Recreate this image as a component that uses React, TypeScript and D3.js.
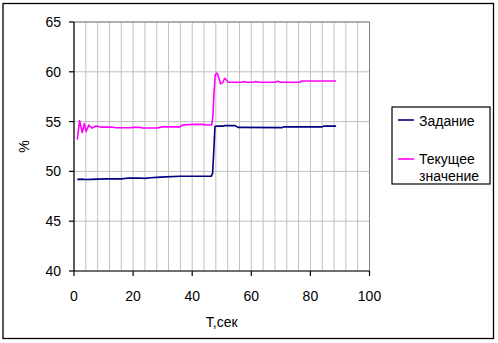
import React from "react";
import * as d3 from "d3";

const W = 498;
const H = 343;

const setpointT = [1.1, 3, 4, 6, 8, 11, 16, 18, 22, 24, 26, 28, 31, 36, 46.5, 46.9, 47.3, 47.7, 48.5, 50.5, 51, 54.5, 55.5, 70.5, 71, 84, 84.5, 88.7];
const setpointV = [49.2, 49.22, 49.18, 49.2, 49.22, 49.25, 49.25, 49.32, 49.33, 49.3, 49.36, 49.4, 49.45, 49.52, 49.52, 49.8, 52.0, 54.5, 54.55, 54.55, 54.6, 54.6, 54.42, 54.4, 54.47, 54.47, 54.55, 54.55];

const currentT = [1.1, 1.9, 2.8, 3.5, 4.1, 5.0, 6.1, 7.5, 9, 13, 14, 19, 20, 22.5, 23, 28, 30, 35.9, 36.5, 37.9, 40.4, 43.8, 44.5, 46.6, 47.0, 47.4, 47.8, 48.4, 49.0, 49.6, 50.3, 51.0, 51.5, 52.2, 57, 57.5, 58.5, 61, 61.5, 62.5, 68, 69, 70, 76.5, 77, 88.7];
const currentV = [53.2, 55.1, 53.9, 54.8, 54.0, 54.65, 54.35, 54.55, 54.45, 54.45, 54.38, 54.38, 54.42, 54.42, 54.36, 54.36, 54.47, 54.47, 54.62, 54.69, 54.72, 54.72, 54.66, 54.66, 55.5, 58.0, 59.7, 59.88, 59.4, 58.8, 58.9, 59.35, 59.2, 58.95, 58.95, 59.03, 58.95, 58.95, 59.03, 58.95, 58.95, 59.05, 58.95, 58.95, 59.08, 59.08];

const xTicks = [0, 20, 40, 60, 80, 100];
const yTicks = [40, 45, 50, 55, 60, 65];
const xGrid = d3.range(0, 101, 4);
const legendLabels = ["Задание", "Текущее", "значение"];

const FONT = "'Liberation Sans', Arial, sans-serif";

export default function App() {
  const x = d3.scaleLinear().domain([0, 100]).range([74, 369.5]);
  const y = d3.scaleLinear().domain([40, 65]).range([271, 22]);

  const line = d3
    .line<[number, number]>()
    .x((d) => x(d[0]))
    .y((d) => y(d[1]));

  const sp = setpointT.map((t, i) => [t, setpointV[i]] as [number, number]);
  const cur = currentT.map((t, i) => [t, currentV[i]] as [number, number]);

  return (
    <svg
      width={W}
      height={H}
      style={{ position: "absolute", left: 0, top: 0, background: "#fff" }}
      fontFamily={FONT}
    >
      <rect x={0} y={0} width={W} height={H} fill="#fff" />
      <rect x={3} y={3.5} width={490.5} height={335} fill="none" stroke="#000" strokeWidth={1.3} />

      {/* grid */}
      {xGrid.map((v) => (
        <line key={"gx" + v} x1={x(v)} x2={x(v)} y1={y(40)} y2={y(65)} stroke="#c0c0c0" strokeWidth={1} />
      ))}
      {yTicks.map((v) => (
        <line key={"gy" + v} x1={x(0)} x2={x(100)} y1={y(v)} y2={y(v)} stroke="#c0c0c0" strokeWidth={1} />
      ))}
      {/* plot border top/right */}
      <line x1={x(0)} x2={x(100)} y1={y(65)} y2={y(65)} stroke="#808080" strokeWidth={1} />
      <line x1={x(100)} x2={x(100)} y1={y(65)} y2={y(40)} stroke="#808080" strokeWidth={1} />

      {/* axes */}
      <line x1={x(0)} x2={x(0)} y1={y(65)} y2={y(40)} stroke="#000" strokeWidth={1.2} />
      <line x1={x(0)} x2={x(100)} y1={y(40)} y2={y(40)} stroke="#000" strokeWidth={1.2} />
      {yTicks.map((v) => (
        <g key={"ty" + v}>
          <line x1={x(0) - 5} x2={x(0)} y1={y(v)} y2={y(v)} stroke="#000" strokeWidth={1.2} />
          <text x={61} y={y(v) + 5} textAnchor="end" fontSize={14} fill="#000">
            {v}
          </text>
        </g>
      ))}
      {xTicks.map((v) => (
        <g key={"tx" + v}>
          <line x1={x(v)} x2={x(v)} y1={y(40)} y2={y(40) + 5} stroke="#000" strokeWidth={1.2} />
          <text x={x(v)} y={301} textAnchor="middle" fontSize={14} fill="#000">
            {v}
          </text>
        </g>
      ))}
      <text x={(x(0) + x(100)) / 2} y={327} textAnchor="middle" fontSize={14} fill="#000">
        T,сек
      </text>
      <text
        transform={`translate(29, ${(y(40) + y(65)) / 2}) rotate(-90)`}
        textAnchor="middle"
        fontSize={14}
        fill="#000"
      >
        %
      </text>

      {/* series */}
      <path d={line(sp) || ""} fill="none" stroke="#000080" strokeWidth={1.6} strokeLinejoin="round" />
      <path d={line(cur) || ""} fill="none" stroke="#ff00ff" strokeWidth={1.6} strokeLinejoin="round" />

      {/* legend */}
      <rect x={392} y={107} width={98} height={77} fill="#fff" stroke="#000" strokeWidth={1.2} />
      <line x1={398} x2={414} y1={120} y2={120} stroke="#000080" strokeWidth={1.6} />
      <text x={419} y={126} fontSize={14} fill="#000">{legendLabels[0]}</text>
      <line x1={398} x2={414} y1={159} y2={159} stroke="#ff00ff" strokeWidth={1.6} />
      <text x={419} y={164} fontSize={14} fill="#000">{legendLabels[1]}</text>
      <text x={419} y={181} fontSize={14} fill="#000">{legendLabels[2]}</text>
    </svg>
  );
}
